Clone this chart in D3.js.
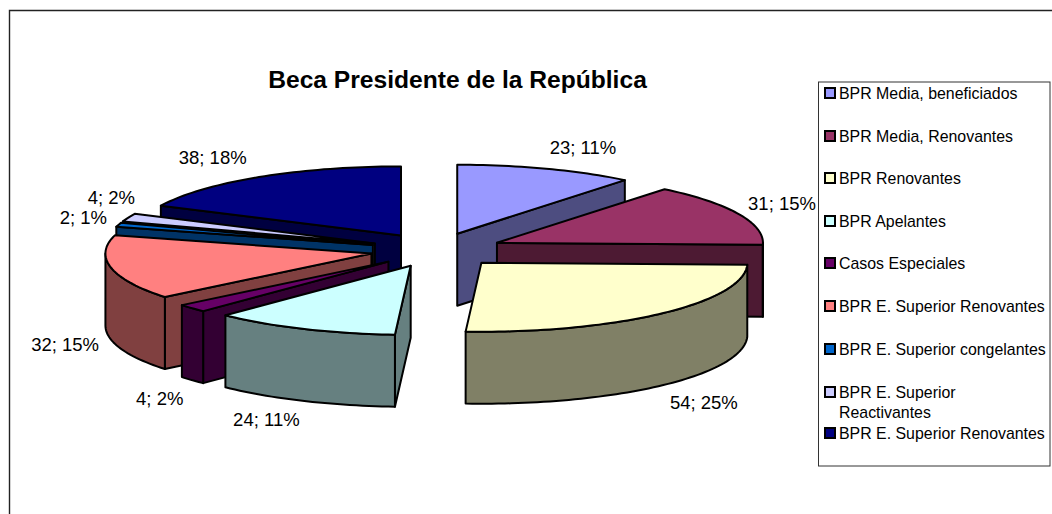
<!DOCTYPE html>
<html><head><meta charset="utf-8">
<script src="https://cdn.jsdelivr.net/npm/d3@7/dist/d3.min.js"></script>
<style>html,body{margin:0;padding:0;background:#fff}svg{display:block}text{font-family:"Liberation Sans",Arial,sans-serif;fill:#000}</style>
</head><body><svg id="c" width="1052" height="514"></svg>
<script>
const titleText = "Beca Presidente de la República";
const categories = ["BPR Media, beneficiados","BPR Media, Renovantes","BPR Renovantes","BPR Apelantes","Casos Especiales","BPR E. Superior Renovantes","BPR E. Superior congelantes","BPR E. Superior Reactivantes","BPR E. Superior Renovantes"];
const values = [23,31,54,24,4,32,2,4,38];
const topColors = ["#9999FF","#993366","#FFFFCC","#CCFFFF","#660066","#FF8080","#0066CC","#CCCCFF","#000080"];
const sideColors = ["#4D4D80","#4D1A33","#808066","#668080","#330033","#804040","#003366","#666680","#000040"];
// layout only
const labelNudge = [[22,-10],[7,-5],[16,82],[-20,82],[-2,84],[-7,76],[3,-3],[20,-15],[-25,-10]];
const sliceShift = [-1.5,0,0,1,1,0,0,0,0];
const legendRows = [93,136,178,221,263,306,349,392,433];
const cx=436.5, cy=250, rx=266, ry=69, depth=72, explode=0.25;

const svg=d3.select("#c");
svg.append("path").attr("d","M9.5,514V10.5H1052").attr("fill","none").attr("stroke","#222").attr("stroke-width",1.4);
svg.append("text").attr("x",457.5).attr("y",87.5).attr("text-anchor","middle").attr("font-weight","bold").attr("font-size",24.6).text(titleText);

const X=d3.scaleLinear([-1,1],[cx-rx,cx+rx]), Y=d3.scaleLinear([-1,1],[cy-ry,cy+ry]);
const total=d3.sum(values), pct=d3.format(".0%");
const arcs=d3.pie().sort(null).startAngle(0).endAngle(2*Math.PI)(values);
const line=d3.line().x(d=>d[0]).y(d=>d[1]);
const closed=pts=>line(pts)+"Z";
// painter's order: back slices first
const order=[0,1,2,8,7,6,5,4,3];
const stroke={stroke:"#000","stroke-width":2,"stroke-linejoin":"round"};
const G=svg.append("g");
function poly(pts,fill){const p=G.append("path").attr("d",closed(pts)).attr("fill",fill);for(const k in stroke)p.attr(k,stroke[k]);}
order.forEach(i=>{
  const a=arcs[i], mid=(a.startAngle+a.endAngle)/2;
  const ox=explode*Math.sin(mid), oy=-explode*Math.cos(mid);
  const P=(ang,r=1)=>[X(ox+r*Math.sin(ang))+sliceShift[i],Y(oy-r*Math.cos(ang))];
  const apex=P(0,0), down=p=>[p[0],p[1]+depth];
  const arcPts=(s,e)=>{const n=Math.max(2,Math.ceil((e-s)*40));return d3.range(n+1).map(j=>P(s+(e-s)*j/n));};
  const midP=P(mid);
  // radial faces: drawn when the slice lies above the edge on screen
  [a.startAngle,a.endAngle].forEach(ang=>{
    const p=P(ang), ex=p[0]-apex[0], ey=p[1]-apex[1];
    if(Math.abs(ex)<1) return;
    const lineY=apex[1]+ey*(midP[0]-apex[0])/ex;
    if(midP[1]<lineY) poly([apex,p,down(p),down(apex)],sideColors[i]);
  });
  // curved wall: only the part facing the viewer
  const s=Math.max(a.startAngle,Math.PI/2), e=Math.min(a.endAngle,3*Math.PI/2);
  if(e>s){const t=arcPts(s,e);poly(t.concat(t.map(down).reverse()),sideColors[i]);}
  // top face
  poly([apex].concat(arcPts(a.startAngle,a.endAngle)),topColors[i]);
});
// data labels
arcs.forEach((a,i)=>{
  const m=(a.startAngle+a.endAngle)/2;
  svg.append("text").attr("text-anchor","middle").attr("font-size",18.5)
    .attr("x",X(1.4*Math.sin(m))+labelNudge[i][0]).attr("y",Y(-1.4*Math.cos(m))+labelNudge[i][1]+5.5)
    .text(`${values[i]}; ${pct(values[i]/total)}`);
});
// legend
svg.append("rect").attr("x",818.5).attr("y",82).attr("width",231.5).attr("height",384).attr("fill","#fff").attr("stroke","#333").attr("stroke-width",1);
categories.forEach((c,i)=>{
  const y=legendRows[i];
  svg.append("rect").attr("x",825).attr("y",y-5).attr("width",10).attr("height",10).attr("fill",topColors[i]).attr("stroke","#000").attr("stroke-width",2);
  const t=svg.append("text").attr("x",839).attr("y",y+5.5).attr("font-size",15.9);
  if(i===7){t.text("BPR E. Superior");svg.append("text").attr("x",839).attr("y",y+25.5).attr("font-size",15.9).text("Reactivantes");}
  else t.text(c);
});
</script></body></html>
